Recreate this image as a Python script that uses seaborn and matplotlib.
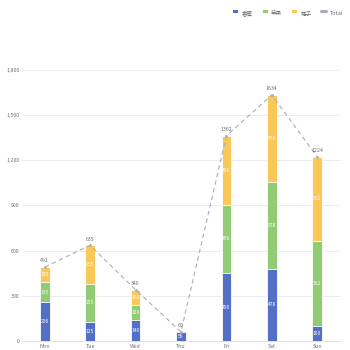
import numpy as np
import pandas as pd
import matplotlib
matplotlib.use("Agg")
import matplotlib.pyplot as plt
import seaborn as sns
from matplotlib.patches import Patch
from matplotlib.lines import Line2D

days = ["Mon", "Tue", "Wed", "Thu", "Fri", "Sat", "Sun"]
series_names = ["香蕉", "苹果", "橘子"]
banana = [256, 125, 140, 56, 450, 478, 100]
apple = [135, 255, 100, 2, 456, 578, 562]
orange = [100, 255, 100, 2, 456, 578, 562]
totals = [491, 635, 340, 60, 1362, 1634, 1224]
yticks = [0, 300, 600, 900, 1200, 1500, 1800]

colors = ["#5470c6", "#91cc75", "#fac858"]
line_color = "#a8adb8"
text_color = "#6e7079"

sns.set_theme(style="white")
plt.rcParams["font.family"] = ["Noto Sans CJK SC", "DejaVu Sans"]

fig = plt.figure(figsize=(3.5, 3.5), dpi=100)
ax = fig.add_axes([0.063, 0.026, 0.908, 0.774])

df = pd.DataFrame({"day": days, "b": banana, "a": apple, "o": orange})
df["c1"] = df["b"]
df["c2"] = df["b"] + df["a"]
df["c3"] = df["c2"] + df["o"]

for col, colr in [("c3", colors[2]), ("c2", colors[1]), ("c1", colors[0])]:
    sns.barplot(data=df, x="day", y=col, color=colr, width=0.21, ax=ax,
                edgecolor="white", linewidth=0.6, saturation=1, zorder=2)

# segment labels
for i in range(len(days)):
    bottoms = [0, df["c1"][i], df["c2"][i]]
    vals = [banana[i], apple[i], orange[i]]
    for b, v in zip(bottoms, vals):
        if v >= 40:
            ax.text(i, b + v / 2, str(v), ha="center", va="center",
                    fontsize=3.5, color="white", zorder=4)

x = np.arange(len(days))
sns.lineplot(x=x, y=totals, ax=ax, color=line_color, linestyle=(0, (4, 3)),
             linewidth=0.8, marker="o", markersize=2, markeredgewidth=0,
             zorder=3)
for xi, t in zip(x, totals):
    ax.text(xi, t + 25, str(t), ha="center", va="bottom", fontsize=3.8,
            color=text_color, zorder=4)

ax.set_ylim(0, 1800)
ax.set_xlim(-0.5, 6.5)
ax.set_yticks(yticks)
ax.set_yticklabels([f"{v:,}" for v in yticks])
ax.set_xlabel("")
ax.set_ylabel("")
ax.yaxis.grid(True, color="#e6e9f0", linewidth=0.6)
ax.set_axisbelow(True)
for s in ["top", "right", "left"]:
    ax.spines[s].set_visible(False)
ax.spines["bottom"].set_color("#d8dbe2")
ax.spines["bottom"].set_linewidth(0.6)
ax.tick_params(axis="both", length=0, labelsize=3.8, colors=text_color, pad=2)

handles = [Patch(facecolor=c, edgecolor="none") for c in colors]
handles.append(Line2D([0], [0], color=line_color, linewidth=2.2))
leg = fig.legend(handles, series_names + ["Total"], loc="upper right",
                 bbox_to_anchor=(0.995, 0.99), ncol=4, frameon=False,
                 fontsize=4, handlelength=0.9, handleheight=0.6,
                 columnspacing=1.8, handletextpad=0.6, labelcolor=text_color)
for t in leg.get_texts():
    t.set_family(["Noto Sans CJK SC"])
    t.set_verticalalignment("center_baseline")

fig.savefig("out.png", dpi=100)
